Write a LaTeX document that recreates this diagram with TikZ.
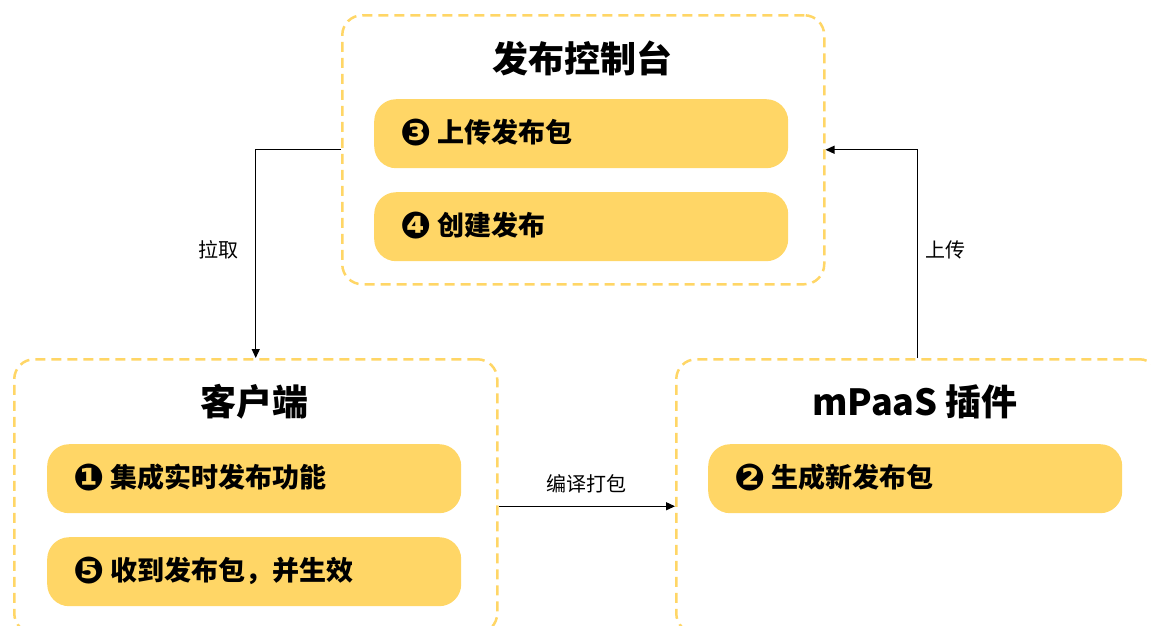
\documentclass[tikz,border=0pt]{standalone}
\usepackage{fontspec}
\setmainfont{Noto Sans CJK SC}
\newfontfamily\dejavu{DejaVu Sans}
\usetikzlibrary{arrows.meta}
\definecolor{ylw}{HTML}{FFD666}
\newcommand{\numc}[1]{\raisebox{-3pt}{\dejavu\fontsize{37pt}{40pt}\selectfont #1}\hspace{6pt}}
\begin{document}
\begin{tikzpicture}[x=1pt,y=-1pt,
  group/.style={draw=ylw, line width=2.5pt, dash pattern=on 10pt off 6pt,
    rounded corners=20pt, anchor=north west, inner sep=0pt},
  item/.style={fill=ylw, rounded corners=22pt, anchor=north west,
    minimum width=414pt, minimum height=69pt, text width=362pt, align=left,
    inner xsep=26pt, inner ysep=0pt, text height=20pt, text depth=3pt,
    font=\bfseries\fontsize{27pt}{32pt}\selectfont},
  ttl/.style={font=\bfseries\fontsize{36pt}{42pt}\selectfont},
  lbl/.style={font=\fontsize{20pt}{24pt}\selectfont},
  arr/.style={draw=black, line width=1.3pt, -{Triangle[length=9pt,width=8pt]}}]
\useasboundingbox (0,0) rectangle (1151,625);
\begin{scope}
\clip (0,0) rectangle (1151,625);
% containers
\node[group, minimum width=482pt, minimum height=269pt] (console) at (341,14) {};
\node[group, minimum width=483pt, minimum height=274pt] (client) at (13,358) {};
\node[group, minimum width=483pt, minimum height=274pt] (plugin) at (675,358) {};
\end{scope}
% titles
\node[ttl] (tconsole) at (582,58) {发布控制台};
\node[ttl] (tclient) at (254,402) {客户端};
\node[ttl] (tplugin) at (915,402) {mPaaS 插件};
% items
\node[item] (s3) at (374,99) {\numc{❸}上传发布包};
\node[item] (s4) at (374,192) {\numc{❹}创建发布};
\node[item] (s1) at (47,444) {\numc{❶}集成实时发布功能};
\node[item] (s5) at (47,537) {\numc{❺}收到发布包，并生效};
\node[item] (s2) at (708,444) {\numc{❷}生成新发布包};
% connectors
\draw[arr] (console.west) -| (client.north);
\draw[arr] (plugin.north) |- (console.east);
\draw[arr] ([yshift=-10pt]client.east) -- ([yshift=-10pt]client.east -| plugin.west);
% labels
\node[lbl] (lpull) at (218,250) {拉取};
\node[lbl] (lup) at (945,250) {上传};
\node[lbl] (lbuild) at (586,484) {编译打包};
\end{tikzpicture}
\end{document}
